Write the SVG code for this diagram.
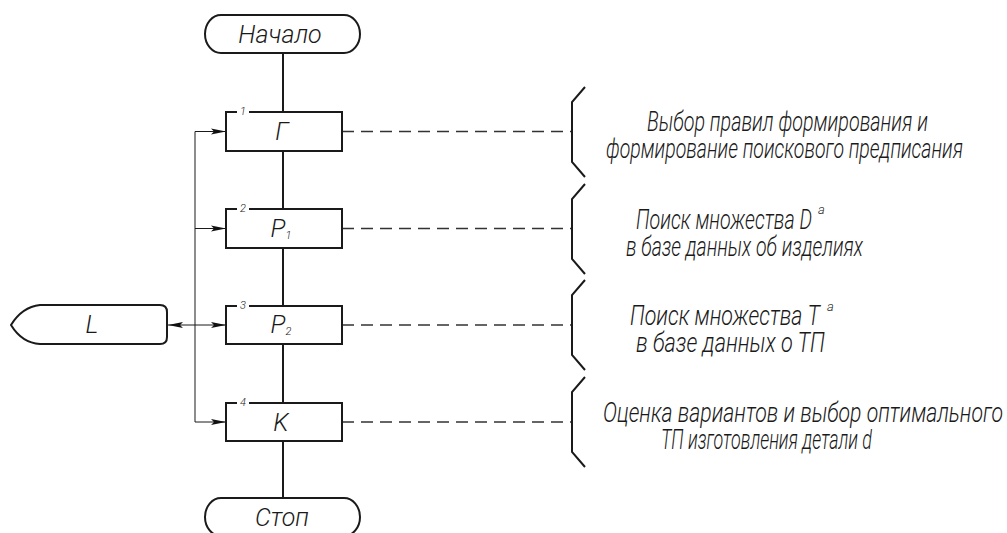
<svg xmlns="http://www.w3.org/2000/svg" width="1007" height="533" viewBox="0 0 1007 533">
<style>
.box{fill:#fff;stroke:#1a1a1a;stroke-width:2}
.ln{fill:none;stroke:#1a1a1a;stroke-width:2}
.thin{fill:none;stroke:#1a1a1a;stroke-width:1}
.gray{fill:none;stroke:#707070;stroke-width:1.6}
.dash{fill:none;stroke:#333;stroke-width:1.5;stroke-dasharray:12 7}
.br{fill:none;stroke:#1a1a1a;stroke-width:2;stroke-linejoin:miter}
.t{font-family:Roboto,"Liberation Sans",sans-serif;font-style:italic;font-weight:300;fill:#1a1a1a}
.lbl{font-size:25px;text-anchor:middle}
.num{font-size:11px;text-anchor:middle}
.desc{font-size:27px}
.sup{font-size:13px}
</style>
<defs>
<marker id="arr" markerUnits="userSpaceOnUse" markerWidth="16" markerHeight="8" refX="15" refY="4" orient="auto-start-reverse">
<path d="M0,1 L15,4 L0,7 L3,4 z" fill="#111"/>
</marker>
</defs>

<g id="connectors">
<line class="ln" x1="283" y1="53" x2="283" y2="112"/>
<line class="ln" x1="283" y1="151" x2="283" y2="209"/>
<line class="ln" x1="283" y1="248" x2="283" y2="306"/>
<line class="ln" x1="283" y1="344" x2="283" y2="403"/>
<line class="ln" x1="283" y1="441" x2="283" y2="498"/>
<line class="gray" x1="195" y1="131.5" x2="195" y2="422"/>
<line class="thin" x1="195" y1="131.5" x2="226" y2="131.5" marker-end="url(#arr)"/>
<line class="thin" x1="195" y1="228.5" x2="226" y2="228.5" marker-end="url(#arr)"/>
<line class="thin" x1="168" y1="325" x2="226" y2="325" marker-start="url(#arr)" marker-end="url(#arr)"/>
<line class="thin" x1="195" y1="422" x2="226" y2="422" marker-end="url(#arr)"/>
<line class="dash" x1="342" y1="131.5" x2="572" y2="131.5"/>
<line class="dash" x1="342" y1="228.5" x2="572" y2="228.5"/>
<line class="dash" x1="342" y1="325" x2="572" y2="325"/>
<line class="dash" x1="342" y1="422" x2="572" y2="422"/>
</g>

<g id="start">
<path class="box" d="M221,15 L344,15 A16,19 0 0 1 344,53 L221,53 A16,19 0 0 1 221,15 z"/>
<text class="t lbl" x="280" y="43" font-size="23">Начало</text>
</g>

<g id="stop">
<path class="box" d="M221,498 L344,498 A16,19 0 0 1 344,536 L221,536 A16,19 0 0 1 221,498 z"/>
<text class="t lbl" x="282" y="526" font-size="23">Стоп</text>
</g>

<g id="node-L">
<path class="box" d="M40,305 L160,305 Q167,305 167,312 L167,337 Q167,344 160,344 L40,344 Q22,343 11,325 Q22,307 40,305 z"/>
<text class="t lbl" x="92" y="333">L</text>
</g>

<g id="node1">
<rect class="box" x="226" y="112" width="116" height="39"/>
<rect x="237" y="109" width="12" height="5" fill="#fff"/>
<text class="t num" x="243" y="115">1</text>
<text class="t lbl" x="282" y="140">Г</text>
</g>

<g id="node2">
<rect class="box" x="226" y="209" width="116" height="39"/>
<rect x="237" y="206" width="12" height="5" fill="#fff"/>
<text class="t num" x="243" y="212">2</text>
<text class="t lbl" x="281" y="237">P<tspan font-size="11" dy="2">1</tspan></text>
</g>

<g id="node3">
<rect class="box" x="226" y="306" width="116" height="38"/>
<rect x="237" y="303" width="12" height="5" fill="#fff"/>
<text class="t num" x="243" y="309">3</text>
<text class="t lbl" x="281" y="333">P<tspan font-size="11" dy="2">2</tspan></text>
</g>

<g id="node4">
<rect class="box" x="226" y="403" width="116" height="38"/>
<rect x="237" y="400" width="12" height="5" fill="#fff"/>
<text class="t num" x="243" y="406">4</text>
<text class="t lbl" x="281" y="431">K</text>
</g>

<g id="note1">
<polyline class="br" points="585,87 572,102 572,162 585,177"/>
<text class="t desc" x="647" y="131" textLength="281" lengthAdjust="spacingAndGlyphs">Выбор правил формирования и</text>
<text class="t desc" x="606" y="158" textLength="357" lengthAdjust="spacingAndGlyphs">формирование поискового предписания</text>
</g>

<g id="note2">
<polyline class="br" points="585,184 572,199 572,259 585,274"/>
<text class="t desc" x="636" y="229" textLength="176" lengthAdjust="spacingAndGlyphs">Поиск множества D</text>
<text class="t sup" x="818" y="214">a</text>
<text class="t desc" x="626" y="256" textLength="237" lengthAdjust="spacingAndGlyphs">в базе данных об изделиях</text>
</g>

<g id="note3">
<polyline class="br" points="585,280 572,295 572,355 585,370"/>
<text class="t desc" x="630" y="325" textLength="190" lengthAdjust="spacingAndGlyphs">Поиск множества T</text>
<text class="t sup" x="827" y="311">a</text>
<text class="t desc" x="636" y="352" textLength="189" lengthAdjust="spacingAndGlyphs">в базе данных о ТП</text>
</g>

<g id="note4">
<polyline class="br" points="585,377 572,392 572,452 585,467"/>
<text class="t desc" x="603" y="422" textLength="400" lengthAdjust="spacingAndGlyphs">Оценка вариантов и выбор оптимального</text>
<text class="t desc" x="661" y="449" textLength="211" lengthAdjust="spacingAndGlyphs">ТП изготовления детали d</text>
</g>
</svg>
